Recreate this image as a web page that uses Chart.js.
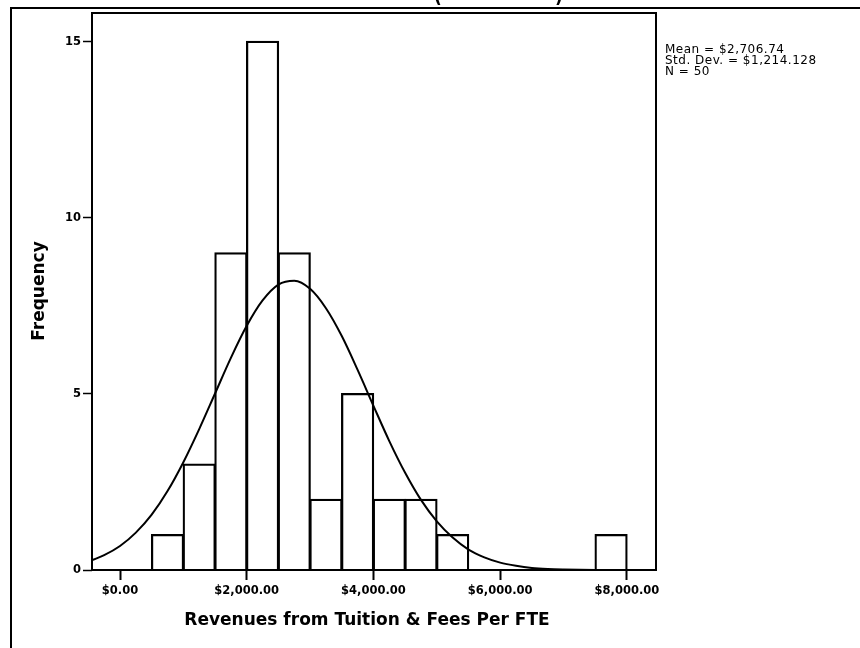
<!DOCTYPE html>
<html lang="en">
<head>
<meta charset="UTF-8">
<title>Revenues from Tuition &amp; Fees Per FTE</title>
<script src="https://cdn.jsdelivr.net/npm/chart.js"></script>
<style>
  body { margin: 0; background: #fff; }
  #wrap { width: 860px; height: 648px; }
</style>
</head>
<body>
<div id="wrap"><canvas id="histChart" width="860" height="648"></canvas></div>
<script>
// histogram bins: lower edge ($) and frequency
const binStarts = [500, 1000, 1500, 2000, 2500, 3000, 3500, 4000, 4500, 5000, 7500];
const binWidth = 500;
const counts = [1, 3, 9, 15, 9, 2, 5, 2, 2, 1, 1];

// normal curve
const curveX = [-442, -250, 0, 250, 500, 750, 1000, 1250, 1500, 1750, 2000, 2250, 2500, 2750,
                3000, 3250, 3500, 3750, 4000, 4250, 4500, 4750, 5000, 5250, 5500, 5750, 6000,
                6250, 6500, 6750, 7000, 7500, 8000, 8459];
const curveY = [0.28, 0.42, 0.68, 1.06, 1.57, 2.24, 3.06, 4.0, 5.01, 6.02, 6.93, 7.65, 8.1, 8.21,
                7.98, 7.43, 6.64, 5.68, 4.66, 3.66, 2.76, 1.99, 1.38, 0.92, 0.58, 0.36, 0.21,
                0.12, 0.06, 0.03, 0.016, 0.003, 0.001, 0];

const xTicks = [0, 2000, 4000, 6000, 8000];
const xTickLabels = ['$0.00', '$2,000.00', '$4,000.00', '$6,000.00', '$8,000.00'];
const yTicks = [0, 5, 10, 15];

const xTitle = 'Revenues from Tuition & Fees Per FTE';
const yTitle = 'Frequency';
const statLines = ['Mean = $2,706.74', 'Std. Dev. = $1,214.128', 'N = 50'];

const FONT = '"DejaVu Sans", sans-serif';

// frame, axis titles and the stats box
const decorations = {
    id: 'decorations',
    afterDraw(chart) {
        const ctx = chart.ctx;
        const a = chart.chartArea;
        ctx.save();
        ctx.strokeStyle = '#000';
        ctx.fillStyle = '#000';

        // plot frame
        ctx.lineWidth = 2;
        ctx.strokeRect(a.left, a.top, a.right - a.left, a.bottom - a.top);

        // outer frame (left + top)
        ctx.beginPath();
        ctx.moveTo(11, 648);
        ctx.lineTo(11, 8);
        ctx.lineTo(860, 8);
        ctx.stroke();

        // bottom of the cut-off title
        ctx.font = 'bold 17px ' + FONT;
        ctx.textAlign = 'center';
        ctx.textBaseline = 'alphabetic';
        ctx.fillText('(', 438, 3);
        ctx.fillText(')', 559, 3);

        // x title
        ctx.textBaseline = 'middle';
        ctx.fillText(xTitle, 367, 621);

        // y title
        ctx.save();
        ctx.translate(40, 291);
        ctx.rotate(-Math.PI / 2);
        ctx.fillText(yTitle, 0, 0);
        ctx.restore();

        // stats
        ctx.font = '12px ' + FONT;
        ctx.letterSpacing = '0.5px';
        ctx.textAlign = 'left';
        statLines.forEach((s, i) => ctx.fillText(s, 665, 50 + i * 11));
        ctx.restore();
    }
};

const ctx = document.getElementById('histChart').getContext('2d');
const chart = new Chart(ctx, {
    type: 'bar',
    data: {
        datasets: [{
            type: 'line',
            data: curveX.map((x, i) => ({ x: x, y: curveY[i] })),
            borderColor: '#000',
            borderWidth: 2,
            pointRadius: 0,
            cubicInterpolationMode: 'monotone',
            fill: false,
            order: 0
        }, {
            type: 'bar',
            data: binStarts.map((s, i) => ({ x: s + binWidth / 2, y: counts[i] })),
            backgroundColor: '#fff',
            borderColor: '#000',
            borderWidth: 2.25,
            inflateAmount: 0.75,
            barPercentage: 1,
            categoryPercentage: 1,
            order: 1
        }]
    },
    options: {
        responsive: false,
        animation: false,
        layout: { padding: { left: 0, top: 13, right: 204, bottom: 0 } },
        plugins: {
            legend: { display: false },
            tooltip: { enabled: false }
        },
        scales: {
            x: {
                type: 'linear',
                min: -442,
                max: 8459,
                offset: false,
                border: { display: false },
                grid: {
                    offset: false,
                    drawOnChartArea: false,
                    drawTicks: true,
                    tickLength: 10,
                    tickColor: '#000',
                    tickWidth: 2
                },
                ticks: {
                    color: '#000',
                    font: { family: FONT, size: 11.5, weight: 'bold' },
                    padding: 4,
                    maxRotation: 0,
                    autoSkip: false,
                    callback: (v, i) => xTickLabels[i]
                },
                afterBuildTicks: s => { s.ticks = xTicks.map(v => ({ value: v })); },
                afterFit: s => { s.height = 78; s.paddingLeft = 0; s.paddingRight = 0; }
            },
            y: {
                min: 0,
                max: 15.81,
                border: { display: false },
                grid: {
                    drawOnChartArea: false,
                    drawTicks: true,
                    tickLength: 9,
                    tickColor: '#000',
                    tickWidth: 1.5
                },
                ticks: {
                    color: '#000',
                    font: { family: FONT, size: 11.5, weight: 'bold' },
                    padding: 2,
                    callback: v => v
                },
                afterBuildTicks: s => { s.ticks = yTicks.map(v => ({ value: v })); },
                afterFit: s => { s.width = 92; s.paddingTop = 0; s.paddingBottom = 0; }
            }
        }
    },
    plugins: [decorations]
});
</script>
</body>
</html>
